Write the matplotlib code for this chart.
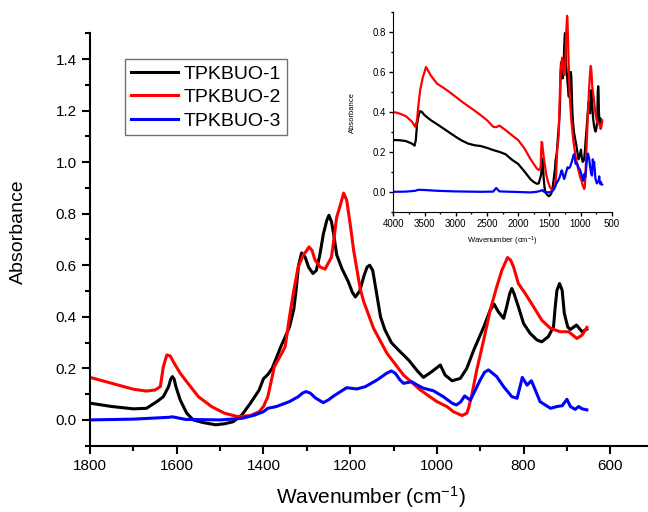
import numpy as np
import matplotlib
matplotlib.use('Agg')
import matplotlib.pyplot as plt
from matplotlib.ticker import MultipleLocator

plt.rcParams['font.family'] = ['Liberation Sans', 'DejaVu Sans']
plt.rcParams['mathtext.fontset'] = 'custom'
plt.rcParams['mathtext.rm'] = 'Liberation Sans'
plt.rcParams['mathtext.it'] = 'Liberation Sans:italic'

# FTIR spectra (wavenumber in cm-1, absorbance)
wn_1 = [4000, 3900, 3800, 3700, 3660, 3640, 3620, 3590, 3570, 3540, 3500, 3400, 3300, 3200,
        3100, 3000, 2900, 2800, 2700, 2600, 2500, 2400, 2300, 2200, 2100, 2000, 1900,
        1800, 1750, 1700, 1670, 1646, 1631, 1619, 1614, 1610, 1606, 1602, 1592, 1577, 1562,
        1540, 1510, 1490, 1470, 1450, 1430, 1410, 1400, 1390, 1380, 1360, 1340, 1330, 1325,
        1319, 1312, 1304, 1296, 1286, 1278, 1270, 1262, 1254, 1249, 1243, 1238, 1231, 1219,
        1204, 1195, 1188, 1178, 1168, 1161, 1155, 1148, 1140, 1130, 1120, 1105, 1092, 1065,
        1045, 1031, 1012, 992, 981, 965, 946, 931, 915, 892, 877, 868, 858, 846, 839, 832,
        827, 822, 812, 800, 785, 769, 758, 743, 731, 727, 723, 717, 711, 706, 698, 692, 678,
        665, 654]
abs_1 = [0.261, 0.260, 0.256, 0.243, 0.233, 0.260, 0.340, 0.390, 0.405, 0.400, 0.385, 0.360,
         0.340, 0.319, 0.298, 0.277, 0.258, 0.243, 0.235, 0.231, 0.222, 0.211, 0.202, 0.190,
         0.163, 0.142, 0.105,
         0.065, 0.052, 0.043, 0.045, 0.071, 0.090, 0.129, 0.158, 0.168, 0.158, 0.129, 0.077,
         0.026, 0.000, -0.010, -0.019, -0.015, -0.007, 0.019, 0.065, 0.116, 0.160, 0.176,
         0.200, 0.284, 0.360, 0.430, 0.500, 0.600, 0.648, 0.632, 0.593, 0.568, 0.580, 0.640,
         0.720, 0.774, 0.794, 0.768, 0.720, 0.640, 0.587, 0.535, 0.495, 0.477, 0.500, 0.560,
         0.593, 0.600, 0.580, 0.500, 0.400, 0.350, 0.300, 0.277, 0.232, 0.190, 0.165, 0.187,
         0.213, 0.174, 0.152, 0.161, 0.200, 0.271, 0.360, 0.426, 0.449, 0.419, 0.394, 0.439,
         0.490, 0.510, 0.490, 0.439, 0.374, 0.336, 0.310, 0.303, 0.323, 0.361, 0.439, 0.503,
         0.529, 0.503, 0.413, 0.360, 0.351, 0.368, 0.342, 0.352]

wn_2 = [4000, 3900, 3800, 3700, 3650, 3620, 3600, 3570, 3530, 3476, 3400, 3300, 3200, 3100,
        3000, 2900, 2800, 2700, 2600, 2500, 2400, 2350, 2300, 2200, 2100, 2000, 1900,
        1800, 1750, 1700, 1670, 1650, 1638, 1631, 1623, 1615, 1608, 1592, 1577, 1550, 1520,
        1490, 1460, 1430, 1410, 1400, 1390, 1375, 1360, 1350, 1340, 1330, 1320, 1308, 1300,
        1295, 1288, 1281, 1269, 1258, 1243, 1231, 1223, 1215, 1208, 1200, 1192, 1177, 1169,
        1146, 1115, 1077, 1038, 1000, 977, 962, 942, 931, 927, 919, 908, 892, 877, 862, 850,
        837, 830, 823, 812, 796, 777, 758, 738, 715, 696, 677, 665, 654]
abs_2 = [0.401, 0.393, 0.380, 0.352, 0.327, 0.360, 0.430, 0.510, 0.570, 0.625, 0.583, 0.542,
         0.522, 0.500, 0.476, 0.452, 0.430, 0.408, 0.385, 0.360, 0.327, 0.325, 0.333, 0.310,
         0.285, 0.261, 0.220,
         0.165, 0.142, 0.119, 0.112, 0.116, 0.129, 0.206, 0.252, 0.248, 0.226, 0.181, 0.148,
         0.090, 0.052, 0.026, 0.013, 0.017, 0.032, 0.052, 0.090, 0.206, 0.252, 0.284, 0.400,
         0.503, 0.593, 0.640, 0.658, 0.671, 0.658, 0.620, 0.593, 0.585, 0.632, 0.787, 0.832,
         0.880, 0.852, 0.760, 0.658, 0.510, 0.460, 0.355, 0.258, 0.174, 0.116, 0.071, 0.052,
         0.032, 0.017, 0.026, 0.045, 0.100, 0.194, 0.310, 0.426, 0.516, 0.581, 0.630, 0.620,
         0.593, 0.529, 0.490, 0.439, 0.387, 0.355, 0.342, 0.342, 0.316, 0.329, 0.359]

wn_3 = [4000, 3800, 3650, 3600, 3500, 3300, 3000, 2600, 2400, 2350, 2300, 2000,
        1800, 1700, 1620, 1610, 1580, 1500, 1450, 1420, 1400, 1390, 1370, 1340, 1320, 1310,
        1302, 1292, 1280, 1262, 1250, 1238, 1208, 1185, 1165, 1138, 1116, 1105, 1096, 1085,
        1077, 1058, 1045, 1031, 1008, 985, 965, 955, 945, 936, 923, 915, 900, 890, 881, 862,
        846, 827, 815, 808, 803, 792, 782, 773, 762, 738, 723, 711, 700, 692, 681, 673, 665,
        654]
abs_3 = [0.003, 0.004, 0.008, 0.013, 0.012, 0.008, 0.005, 0.003, 0.004, 0.022, 0.005, 0.002,
         0.000, 0.003, 0.010, 0.012, 0.002, 0.000, 0.006, 0.019, 0.032, 0.045, 0.052, 0.071,
         0.090, 0.104, 0.110, 0.104, 0.085, 0.067, 0.078, 0.093, 0.125, 0.120, 0.129, 0.155,
         0.181, 0.190, 0.181, 0.155, 0.142, 0.148, 0.135, 0.123, 0.113, 0.090, 0.065, 0.058,
         0.070, 0.093, 0.077, 0.103, 0.155, 0.185, 0.194, 0.168, 0.129, 0.090, 0.084, 0.130,
         0.165, 0.135, 0.152, 0.116, 0.071, 0.045, 0.052, 0.055, 0.080, 0.052, 0.041, 0.052,
         0.043, 0.039]

labels = ['TPKBUO-1', 'TPKBUO-2', 'TPKBUO-3']
colors = ['black', 'red', 'blue']
series = [(wn_1, abs_1), (wn_2, abs_2), (wn_3, abs_3)]

fig = plt.figure(figsize=(6.48, 5.12), dpi=100)
ax = fig.add_axes([0.139, 0.1295, 0.863, 0.8055])

for (wn, a), c, lab in zip(series, colors, labels):
    ax.plot(wn, a, color=c, lw=2.2, label=lab, solid_joinstyle='round')

ax.set_xlim(1800, 510)
ax.set_ylim(-0.1, 1.5)
ax.xaxis.set_major_locator(MultipleLocator(200))
ax.xaxis.set_minor_locator(MultipleLocator(100))
ax.yaxis.set_major_locator(MultipleLocator(0.2))
ax.yaxis.set_minor_locator(MultipleLocator(0.1))
ax.spines['top'].set_visible(False)
ax.spines['right'].set_visible(False)
for s in ['left', 'bottom']:
    ax.spines[s].set_linewidth(1.5)
ax.tick_params(which='major', direction='out', length=6, width=1.5, labelsize=11)
ax.tick_params(which='minor', direction='out', length=3.5, width=1.5)
ax.set_xlabel('Wavenumber (cm$^{-1}$)', fontsize=15)
ax.set_ylabel('Absorbance', fontsize=14)
ax.xaxis.set_label_coords(0.503, -0.094)
ax.yaxis.set_label_coords(-0.112, 0.52)

leg = ax.legend(loc='upper left', bbox_to_anchor=(0.0626, 0.937), borderaxespad=0,
                fontsize=14, fancybox=False, edgecolor='0.3', handlelength=2.4,
                handletextpad=0.3, labelspacing=0.3, borderpad=0.3)
leg.get_frame().set_linewidth(1.0)

# inset with the full spectral range
ins = fig.add_axes([0.607, 0.585, 0.337, 0.392])
for (wn, a), c in zip(series, colors):
    ins.plot(wn, a, color=c, lw=1.6, solid_joinstyle='round')
ins.set_xlim(4000, 500)
ins.set_ylim(-0.1, 0.9)
ins.xaxis.set_major_locator(MultipleLocator(500))
ins.xaxis.set_minor_locator(MultipleLocator(250))
ins.yaxis.set_major_locator(MultipleLocator(0.2))
ins.yaxis.set_minor_locator(MultipleLocator(0.1))
ins.spines['top'].set_visible(False)
ins.spines['right'].set_visible(False)
ins.tick_params(which='major', direction='out', length=3, width=1, labelsize=7, pad=2)
ins.tick_params(which='minor', direction='out', length=1.5, width=1)
ins.set_xlabel('Wavenumber (cm$^{-1}$)', fontsize=5.5)
ins.set_ylabel('Absorbance', fontsize=5.5, labelpad=12)

fig.savefig('out.png', dpi=100)
